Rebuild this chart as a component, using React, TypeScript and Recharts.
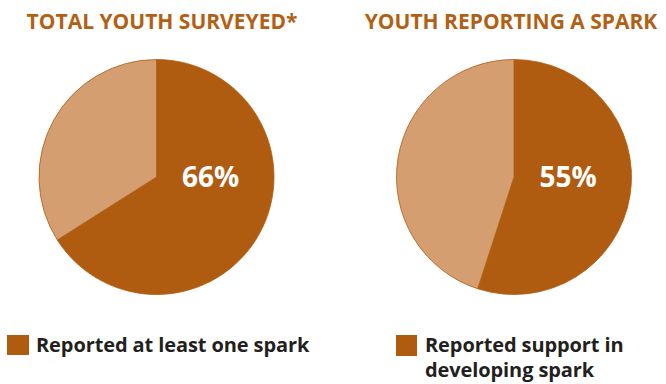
import React from 'react';
import { PieChart, Pie, Cell } from 'recharts';

const titles = ['TOTAL YOUTH SURVEYED*', 'YOUTH REPORTING A SPARK'];
const sliceNames = ['yes', 'no'];
const surveyedValues = [66, 34];
const sparkValues = [55, 45];
const legendLabels = ['Reported at least one spark', 'Reported support in developing spark'];

const DARK = '#B05C10';
const LIGHT = '#D59E70';
const TITLE = '#B35F14';
const FONT = '"Open Sans", sans-serif';

const makeData = (values: number[]) => values.map((v, i) => ({ name: sliceNames[i], value: v }));

const renderLabel = (props: any) => {
  const { cx, cy, outerRadius, index, value } = props;
  if (index !== 0) return null;
  return (
    <text
      x={cx + outerRadius * 0.46}
      y={cy + 3}
      fill="#fff"
      textAnchor="middle"
      dominantBaseline="middle"
      fontFamily={FONT}
      fontWeight={700}
      fontSize={28}
    >
      {value}%
    </text>
  );
};

const PieBlock: React.FC<{ values: number[]; left: number; cx: number }> = ({ values, left, cx }) => (
  <div style={{ position: 'absolute', left, top: 0 }}>
    <PieChart width={333} height={300} margin={{ top: 0, right: 0, bottom: 0, left: 0 }}>
      <Pie
        data={makeData(values)}
        dataKey="value"
        cx={cx}
        cy={177}
        outerRadius={117.5}
        startAngle={90}
        endAngle={-270}
        stroke={DARK}
        strokeWidth={0.8}
        label={renderLabel}
        labelLine={false}
        isAnimationActive={false}
      >
        <Cell fill={DARK} />
        <Cell fill={LIGHT} />
      </Pie>
    </PieChart>
  </div>
);

export default function App() {
  const titleStyle: React.CSSProperties = {
    position: 'absolute',
    top: 7,
    fontFamily: FONT,
    fontWeight: 700,
    fontSize: 21,
    lineHeight: '28px',
    color: TITLE,
    whiteSpace: 'nowrap',
    transform: 'translateX(-50%)',
  };
  const legendText: React.CSSProperties = {
    position: 'absolute',
    fontFamily: FONT,
    fontWeight: 700,
    fontSize: 20,
    color: '#231F20',
    lineHeight: '25px',
    letterSpacing: -0.1,
  };
  return (
    <div style={{ position: 'absolute', left: 0, top: 0, width: 666, height: 384, background: '#fff', overflow: 'hidden' }}>
      <div style={{ ...titleStyle, left: 162 }}>{titles[0]}</div>
      <div style={{ ...titleStyle, left: 511 }}>{titles[1]}</div>

      <PieBlock values={surveyedValues} left={0} cx={156.5} />
      <PieBlock values={sparkValues} left={333} cx={181} />

      <div style={{ position: 'absolute', left: 7, top: 335, width: 22, height: 20, background: DARK }} />
      <div style={{ ...legendText, left: 36, top: 332, whiteSpace: 'nowrap' }}>{legendLabels[0]}</div>

      <div style={{ position: 'absolute', left: 396, top: 335, width: 21, height: 21, background: DARK }} />
      <div style={{ ...legendText, left: 425, top: 332, width: 215 }}>{legendLabels[1]}</div>
    </div>
  );
}
